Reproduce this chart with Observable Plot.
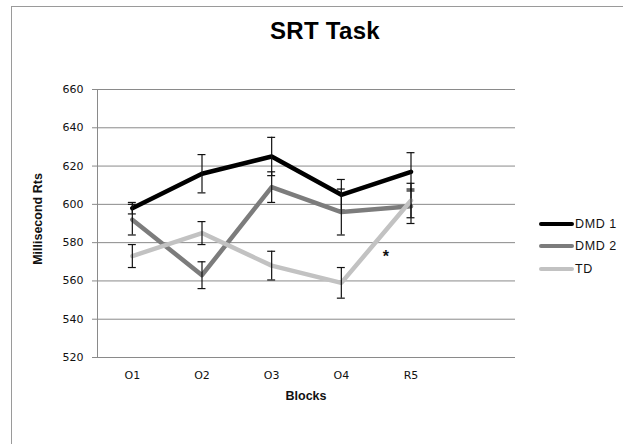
<!DOCTYPE html>
<html>
<head>
<meta charset="utf-8">
<script src="https://cdn.jsdelivr.net/npm/d3@7"></script>
<script src="https://cdn.jsdelivr.net/npm/@observablehq/plot@0.6"></script>
<style>
  html, body { margin: 0; padding: 0; background: #fff; }
  #wrap { position: relative; width: 623px; height: 444px; overflow: hidden; font-family: "Liberation Sans", Arial, sans-serif; }
  #frame { position: absolute; left: 11px; top: 6px; width: 700px; height: 500px; border: 1px solid #9a9a9a; box-sizing: border-box; }
  #title { position: absolute; left: 0; width: 650px; top: 19px; line-height: 24px; text-align: center; font-size: 24px; font-weight: bold; letter-spacing: 0.3px; color: #000; }
  #chart { position: absolute; left: 0; top: 0; }
  .axlab { position: absolute; font-weight: bold; font-size: 12.5px; color: #111; }
  #ylab { left: 38px; top: 219px; transform: translate(-50%, -50%) rotate(-90deg); white-space: nowrap; }
  #xlab { left: 306px; top: 396px; transform: translate(-50%, -50%); }
  #legend { position: absolute; left: 539px; top: 0; font-size: 12.5px; letter-spacing: 0.6px; color: #111; }
  .li { position: absolute; left: 0; white-space: nowrap; display: flex; align-items: center; line-height: 16px; }
  .sw { width: 35px; height: 4.5px; border-radius: 2.5px; margin-right: 1px; }
</style>
</head>
<body>
<div id="wrap">
  <div id="frame"></div>
  <div id="title">SRT Task</div>
  <div id="chart"></div>
  <div class="axlab" id="ylab">Millisecond Rts</div>
  <div class="axlab" id="xlab">Blocks</div>
  <div id="legend"></div>
</div>
<script>
const blocks = ["O1", "O2", "O3", "O4", "R5"];
const seriesNames = ["DMD 1", "DMD 2", "TD"];
const seriesColors = ["#000000", "#7c7c7c", "#c2c2c2"];
const dmd1 = [598, 616, 625, 605, 617];
const dmd1Err = [3, 10, 10, 8, 10];
const dmd2 = [592, 563, 609, 596, 599];
const dmd2Err = [8, 7, 8, 12, 9];
const td = [573, 585, 568, 559, 602];
const tdErr = [6, 6, 7.5, 8, 9];
const yTicks = [520, 540, 560, 580, 600, 620, 640, 660];
const starPos = { x: 4.64, y: 574.5, label: "*" };

const values = [dmd1, dmd2, td];
const errs = [dmd1Err, dmd2Err, tdErr];
const rows = [];
seriesNames.forEach((s, si) => {
  blocks.forEach((b, i) => {
    rows.push({ series: s, si, x: i + 1, block: b, v: values[si][i], lo: values[si][i] - errs[si][i], hi: values[si][i] + errs[si][i] });
  });
});

const tickFont = { fontFamily: "'DejaVu Sans', Verdana, sans-serif", fontSize: 11, fill: "#111" };
const capHalf = 0.057;
const marks = [
  Plot.ruleY(yTicks, { stroke: "#8a8a8a", strokeWidth: 1 }),
  Plot.ruleX([0.5], { stroke: "#8a8a8a", strokeWidth: 1 }),
  Plot.axisY({ ticks: yTicks, tickSize: 5, tickPadding: 9, stroke: "#8a8a8a", label: null, ...tickFont }),
  Plot.axisX({ ticks: [1, 2, 3, 4, 5], tickFormat: d => blocks[d - 1], tickSize: 0, tickPadding: 14, label: null, ...tickFont })
];
seriesNames.forEach((s, si) => {
  const d = rows.filter(r => r.si === si);
  marks.push(
    Plot.line(d, { x: "x", y: "v", stroke: seriesColors[si], strokeWidth: 4.5, strokeLinejoin: "round", strokeLinecap: "round" }),
    Plot.ruleX(d, { x: "x", y1: "lo", y2: "hi", stroke: "#111", strokeWidth: 1.2 }),
    Plot.ruleY(d, { y: "lo", x1: r => r.x - capHalf, x2: r => r.x + capHalf, stroke: "#111", strokeWidth: 1.2 }),
    Plot.ruleY(d, { y: "hi", x1: r => r.x - capHalf, x2: r => r.x + capHalf, stroke: "#111", strokeWidth: 1.2 })
  );
});
marks.push(Plot.text([starPos], { x: "x", y: "y", text: "label", fontSize: 16, fontWeight: "bold", fill: "#111", dy: 4 }));

const chart = Plot.plot({
  width: 623,
  height: 444,
  marginLeft: 97,
  marginRight: 108,
  marginTop: 89,
  marginBottom: 87,
  style: { fontFamily: "'Liberation Sans', Arial, sans-serif", color: "#111", background: "transparent" },
  x: { type: "linear", domain: [0.5, 6.5] },
  y: { domain: [520, 660] },
  marks
});
document.getElementById("chart").appendChild(chart);

const legendY = [224, 246, 269];
const lg = document.getElementById("legend");
seriesNames.forEach((s, si) => {
  const el = document.createElement("div");
  el.className = "li";
  el.style.top = (legendY[si] - 8) + "px";
  el.innerHTML = `<span class="sw" style="background:${seriesColors[si]}"></span><span>${s}</span>`;
  lg.appendChild(el);
});
</script>
</body>
</html>
